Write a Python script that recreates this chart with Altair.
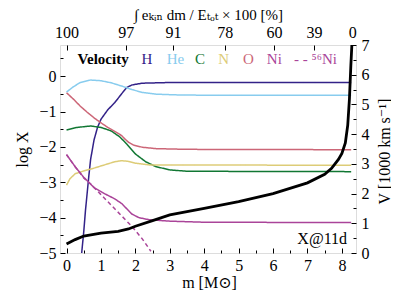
import altair as alt
import pandas as pd

# ---------------- data ----------------
h_m = [0.44, 0.5, 0.55, 0.6, 0.65, 0.7, 0.8, 0.9, 1.0, 1.2, 1.4, 1.6, 1.75, 1.9, 2.2, 3.0, 8.27]
h_x = [-5.0, -4.4, -3.8, -3.3, -2.8, -2.35, -1.8, -1.45, -1.22, -0.95, -0.75, -0.5, -0.32, -0.25, -0.2, -0.18, -0.18]

he_m = [0, 0.2, 0.4, 0.7, 1.0, 1.3, 1.6, 1.9, 2.2, 2.6, 3.2, 4.0, 8.27]
he_x = [-0.45, -0.3, -0.18, -0.11, -0.13, -0.19, -0.28, -0.38, -0.46, -0.51, -0.53, -0.54, -0.54]

c_m = [0, 0.3, 0.7, 1.0, 1.3, 1.55, 1.75, 2.0, 2.3, 2.6, 3.0, 3.5, 8.27]
c_x = [-1.52, -1.45, -1.41, -1.45, -1.55, -1.72, -1.92, -2.2, -2.42, -2.56, -2.65, -2.69, -2.70]

n_m = [0, 0.1, 0.25, 0.5, 0.8, 1.1, 1.4, 1.6, 1.8, 2.0, 2.4, 8.27]
n_x = [-3.08, -2.9, -2.76, -2.68, -2.6, -2.51, -2.42, -2.39, -2.41, -2.46, -2.51, -2.52]

o_m = [0, 0.2, 0.4, 0.6, 0.8, 1.0, 1.2, 1.4, 1.6, 1.7, 1.8, 1.95, 2.2, 2.6, 3.5, 8.27]
o_x = [-0.47, -0.65, -0.85, -1.02, -1.18, -1.32, -1.45, -1.56, -1.68, -1.78, -1.87, -1.95, -2.01, -2.05, -2.07, -2.08]

ni_m = [0, 0.25, 0.5, 0.8, 1.1, 1.4, 1.6, 1.75, 1.9, 2.1, 2.4, 3.0, 4.0, 8.27]
ni_x = [-2.22, -2.56, -2.86, -3.15, -3.32, -3.47, -3.6, -3.75, -3.9, -4.0, -4.06, -4.1, -4.13, -4.14]

ni56_m = [0, 0.25, 0.5, 0.7, 1.0, 1.3, 1.6, 1.9, 2.2, 2.45]
ni56_x = [-2.22, -2.56, -2.88, -3.05, -3.35, -3.65, -3.95, -4.25, -4.6, -4.95]

vel_m = [0, 0.25, 0.5, 1.0, 1.5, 1.8, 2.0, 2.5, 3.0, 4.0, 5.0, 6.0, 7.0, 7.5, 7.7, 7.8,
         7.9, 8.0, 8.1, 8.17, 8.22, 8.26, 8.29]
vel_v = [0.30, 0.45, 0.57, 0.67, 0.73, 0.81, 0.90, 1.09, 1.28, 1.50, 1.73, 2.00, 2.36, 2.65,
         2.85, 3.00, 3.15, 3.35, 3.70, 4.30, 5.20, 6.30, 7.00]

species = ["H", "He", "C", "N", "O", "Ni", "56Ni"]
species_colors = ["#332288", "#88CCEE", "#117733", "#DDCC77", "#CC6677", "#AA4499", "#AA4499"]

top_tick_m = [0, 1.72, 3.09, 4.6, 6.03, 7.19, 8.3]
top_tick_labels = ["100", "97", "91", "78", "60", "39", "0"]

legend_labels = ["H", "He", "C", "N", "O", "Ni", "- - \u2075\u2076Ni"]
note_label = "X@11d"

# ---------------- tables ----------------
series = {"H": (h_m, h_x), "He": (he_m, he_x), "C": (c_m, c_x), "N": (n_m, n_x),
          "O": (o_m, o_x), "Ni": (ni_m, ni_x), "56Ni": (ni56_m, ni56_x)}
rows = []
for sp, (ms, xs_) in series.items():
    for mm, xx in zip(ms, xs_):
        rows.append({"species": sp, "m": mm, "logX": xx,
                     "dashed": "dash" if sp == "56Ni" else "solid"})
df = pd.DataFrame(rows)
vel = pd.DataFrame({"m": vel_m, "V": vel_v})

legend_m = [2.18, 2.91, 3.73, 4.41, 5.13, 5.82, 6.61]
leg = pd.DataFrame({"label": legend_labels, "m": legend_m, "y": [0.34] * 7,
                    "col": species_colors})
velo_lab = pd.DataFrame({"label": ["Velocity"], "m": [0.32], "y": [0.34]})
note = pd.DataFrame({"label": [note_label], "m": [8.15], "V": [0.3]})

W, H = 296, 208
FONT = "Liberation Serif, Times New Roman, DejaVu Serif, serif"
XDOM = [-0.19, 8.41]
YDOM = [-5, 0.88]
VDOM = [0, 7]

xs = alt.Scale(domain=XDOM, nice=False, zero=False)
ys = alt.Scale(domain=YDOM, nice=False, zero=False)
vs = alt.Scale(domain=VDOM, nice=False, zero=False)

tick_cond = {"condition": {"test": "datum.value % 1 === 0", "value": 5}, "value": 3}
common_ax = dict(grid=False, domain=False, labelFont=FONT, titleFont=FONT,
                 labelFontSize=16, titleFontSize=16, labelColor="black",
                 titleColor="black", titleFontWeight="normal", tickColor="black")

# species lines
lines = alt.Chart(df).mark_line(strokeWidth=1.5, clip=True).encode(
    x=alt.X("m:Q", scale=xs, axis=alt.Axis(
        orient="bottom", values=list(range(9)), tickSize=0, labelPadding=4,
        title="m [M\u2299]", titleX=149, titleY=29, titleBaseline="middle",
        titleAlign="center", **common_ax)),
    y=alt.Y("logX:Q", scale=ys, axis=alt.Axis(
        orient="left", values=[-5, -4, -3, -2, -1, 0], tickSize=0, labelPadding=4,
        title="log X", titleX=-38, titleY=104, titleAngle=270, titleBaseline="middle",
        titleAlign="center", **common_ax)),
    color=alt.Color("species:N", scale=alt.Scale(domain=species, range=species_colors), legend=None),
    strokeDash=alt.StrokeDash("dashed:N", scale=alt.Scale(domain=["solid", "dash"], range=[[1, 0], [4, 3]]), legend=None),
    detail="species:N",
)

label_expr = "[" + ",".join("'%s'" % t for t in top_tick_labels) + "][indexof([" + \
    ",".join(str(v) for v in top_tick_m) + "], datum.value)]"

top_ax = dict(common_ax)
top_ax["titleFontSize"] = 15

velocity = alt.Chart(vel).mark_line(color="black", strokeWidth=2.8, clip=True).encode(
    x=alt.X("m:Q", scale=xs, axis=alt.Axis(
        orient="top", values=top_tick_m, labelExpr=label_expr, tickSize=0, labelPadding=5,
        title="\u222b e\u2096\u1d62\u2099 dm / E\u209c\u2092\u209c \u00d7 100 [%]",
        titleX=148, titleY=-31, titleBaseline="middle", titleAlign="center", **top_ax)),
    y=alt.Y("V:Q", scale=vs, axis=alt.Axis(
        orient="right", values=list(range(8)), tickSize=0, labelPadding=5,
        title="V [1000 km s\u207b\u00b9]", titleX=28, titleY=106, titleAngle=270,
        titleBaseline="middle", titleAlign="center", **common_ax)),
)

legend_text = alt.Chart(leg).mark_text(font=FONT, fontSize=15, align="left",
                                       baseline="alphabetic").encode(
    x=alt.X("m:Q", scale=xs, axis=alt.Axis(
        orient="top", offset=-H, values=[i * 0.5 for i in range(17)], labels=False,
        tickSize=tick_cond, title=None, grid=False, domain=False, tickColor="black")),
    y=alt.Y("y:Q", scale=ys, axis=alt.Axis(
        orient="right", offset=-W, values=[-5 + i * 0.5 for i in range(12)], labels=False,
        tickSize=tick_cond, title=None, grid=False, domain=False, tickColor="black")),
    text="label:N",
    color=alt.Color("col:N", scale=None),
)

note_text = alt.Chart(note).mark_text(font=FONT, fontSize=16, align="right",
                                      baseline="alphabetic", color="black").encode(
    x=alt.X("m:Q", scale=xs, axis=alt.Axis(
        orient="bottom", offset=-H, values=top_tick_m, labels=False, tickSize=5,
        title=None, grid=False, domain=False, tickColor="black")),
    y=alt.Y("V:Q", scale=vs, axis=alt.Axis(
        orient="left", offset=-W, values=[i * 0.5 for i in range(15)], labels=False,
        tickSize=tick_cond, title=None, grid=False, domain=False, tickColor="black")),
    text="label:N",
)

velo_text = alt.Chart(velo_lab).mark_text(font=FONT, fontSize=15, fontWeight="bold",
                                          align="left", baseline="alphabetic",
                                          color="black").encode(
    x=alt.X("m:Q", scale=xs, axis=None),
    y=alt.Y("y:Q", scale=ys, axis=None),
    text="label:N",
)

chart = alt.layer(lines, velocity, legend_text, note_text, velo_text).resolve_scale(
    y="independent"
).resolve_axis(x="independent", y="independent").properties(
    width=W, height=H,
    autosize=alt.AutoSizeParams(type="none"),
    padding={"left": 52, "top": 37, "right": 35, "bottom": 38},
).configure_view(stroke="black", strokeWidth=1.6).configure(background="white")

chart.save("out.html", embed_options={"renderer": "svg", "actions": False})
